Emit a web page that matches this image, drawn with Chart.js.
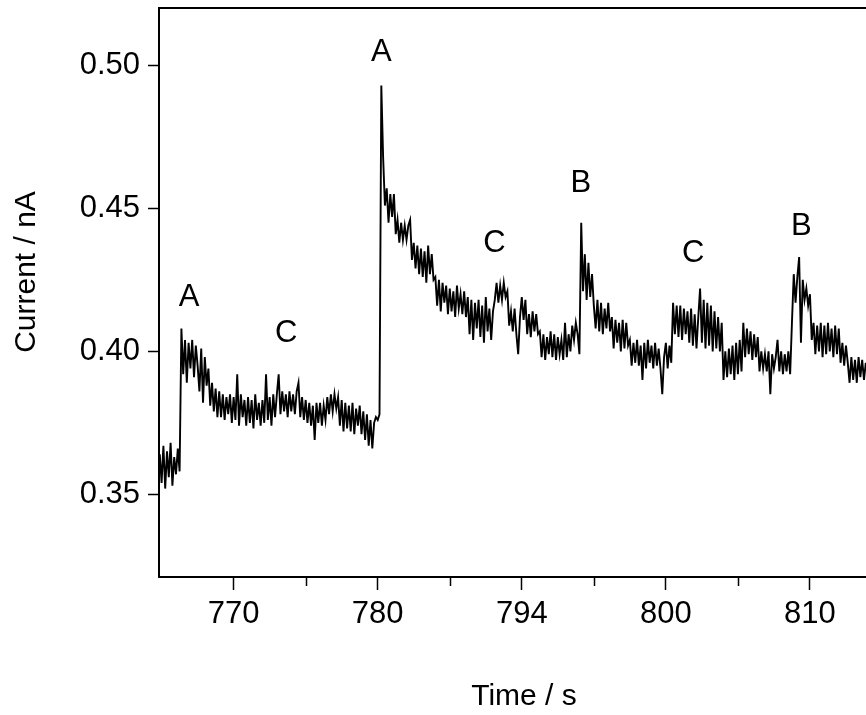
<!DOCTYPE html>
<html>
<head>
<meta charset="utf-8">
<title>Current trace</title>
<script src="https://cdn.jsdelivr.net/npm/chart.js@4.4.1/dist/chart.umd.min.js"></script>
<style>
    html, body { margin: 0; padding: 0; background: #fff; }
    canvas { display: block; }
</style>
</head>
<body>
<canvas id="traceChart" width="866" height="715"></canvas>
<script>
// Recording: one sample every 0.125 s starting at 764.875 s
const sampleStart = 764.875;
const sampleStep = 0.125;

// Current / nA, one row per second
const currentTrace = [
    0.364,
    0.354, 0.367, 0.352, 0.365, 0.356, 0.368, 0.353, 0.363, // 765
    0.357, 0.366, 0.358, 0.408, 0.392, 0.404, 0.389, 0.403, // 766
    0.394, 0.404, 0.391, 0.402, 0.395, 0.386, 0.401, 0.382, // 767
    0.398, 0.388, 0.394, 0.381, 0.389, 0.379, 0.387, 0.377, // 768
    0.386, 0.377, 0.385, 0.376, 0.384, 0.378, 0.385, 0.375, // 769
    0.384, 0.376, 0.392, 0.374, 0.385, 0.377, 0.383, 0.374, // 770
    0.384, 0.375, 0.383, 0.373, 0.385, 0.376, 0.382, 0.374, // 771
    0.383, 0.375, 0.392, 0.376, 0.384, 0.374, 0.385, 0.377, // 772
    0.385, 0.392, 0.378, 0.386, 0.379, 0.385, 0.377, 0.386, // 773
    0.379, 0.385, 0.378, 0.386, 0.389, 0.377, 0.384, 0.376, // 774
    0.383, 0.375, 0.382, 0.374, 0.381, 0.369, 0.382, 0.375, // 775
    0.382, 0.374, 0.381, 0.376, 0.384, 0.378, 0.385, 0.379, // 776
    0.385, 0.380, 0.384, 0.374, 0.383, 0.372, 0.382, 0.373, // 777
    0.381, 0.372, 0.382, 0.371, 0.380, 0.374, 0.381, 0.371, // 778
    0.379, 0.369, 0.378, 0.367, 0.376, 0.366, 0.375, 0.377, // 779
    0.376, 0.378, 0.493, 0.468, 0.451, 0.457, 0.445, 0.455, // 780
    0.447, 0.455, 0.441, 0.446, 0.438, 0.445, 0.439, 0.444, // 781
    0.439, 0.444, 0.446, 0.432, 0.438, 0.429, 0.437, 0.427, // 782
    0.436, 0.426, 0.435, 0.424, 0.437, 0.427, 0.434, 0.425, // 783
    0.426, 0.416, 0.425, 0.414, 0.424, 0.417, 0.423, 0.413, // 784
    0.422, 0.414, 0.421, 0.412, 0.423, 0.415, 0.420, 0.413, // 785
    0.421, 0.412, 0.419, 0.406, 0.418, 0.404, 0.417, 0.408, // 786
    0.418, 0.405, 0.416, 0.403, 0.419, 0.407, 0.415, 0.404, // 787
    0.414, 0.418, 0.424, 0.417, 0.423, 0.418, 0.424, 0.419, // 788
    0.421, 0.409, 0.414, 0.407, 0.415, 0.406, 0.399, 0.412, // 789
    0.419, 0.411, 0.418, 0.406, 0.413, 0.405, 0.414, 0.407, // 790
    0.413, 0.406, 0.407, 0.398, 0.406, 0.397, 0.405, 0.399, // 791
    0.407, 0.398, 0.406, 0.397, 0.405, 0.399, 0.404, 0.397, // 792
    0.410, 0.398, 0.406, 0.400, 0.409, 0.404, 0.410, 0.406, // 793
    0.399, 0.445, 0.421, 0.434, 0.418, 0.431, 0.419, 0.427, // 794
    0.416, 0.408, 0.418, 0.407, 0.417, 0.406, 0.415, 0.408, // 795
    0.417, 0.407, 0.412, 0.401, 0.411, 0.403, 0.410, 0.400, // 796
    0.411, 0.401, 0.410, 0.402, 0.404, 0.395, 0.403, 0.396, // 797
    0.404, 0.395, 0.402, 0.390, 0.403, 0.394, 0.404, 0.396, // 798
    0.402, 0.394, 0.403, 0.395, 0.401, 0.394, 0.385, 0.398, // 799
    0.403, 0.394, 0.402, 0.396, 0.417, 0.406, 0.416, 0.405, // 800
    0.416, 0.404, 0.415, 0.406, 0.414, 0.403, 0.415, 0.402, // 801
    0.413, 0.401, 0.412, 0.422, 0.403, 0.418, 0.401, 0.417, // 802
    0.402, 0.416, 0.400, 0.414, 0.401, 0.412, 0.400, 0.410, // 803
    0.390, 0.400, 0.391, 0.401, 0.392, 0.402, 0.390, 0.403, // 804
    0.392, 0.404, 0.393, 0.410, 0.398, 0.408, 0.399, 0.407, // 805
    0.397, 0.406, 0.398, 0.405, 0.393, 0.400, 0.394, 0.399, // 806
    0.393, 0.400, 0.385, 0.399, 0.394, 0.398, 0.404, 0.393, // 807
    0.400, 0.392, 0.399, 0.393, 0.400, 0.392, 0.410, 0.427, // 808
    0.417, 0.426, 0.433, 0.403, 0.425, 0.418, 0.422, 0.416, // 809
    0.420, 0.404, 0.410, 0.399, 0.409, 0.400, 0.410, 0.398, // 810
    0.409, 0.399, 0.410, 0.400, 0.408, 0.398, 0.409, 0.399, // 811
    0.408, 0.396, 0.403, 0.395, 0.402, 0.396, 0.389, 0.398, // 812
    0.390, 0.397, 0.389, 0.398, 0.391, 0.397, 0.390, 0.396  // 813
];

// Axis ticks (the original figure labels the 790 s tick "794")
const timeTickValues = [770, 780, 790, 800, 810];
const timeTickLabels = ['770', '780', '794', '800', '810'];
const timeMinorTicks = [775, 785, 795, 805];
const currentTickValues = [0.35, 0.40, 0.45, 0.50];
const currentTickLabels = ['0.35', '0.40', '0.45', '0.50'];

// Peak annotations, placed in data units
const peakLabels = ['A', 'C', 'A', 'C', 'B', 'C', 'B'];
const peakLabelTimes = [766.9, 773.65, 780.25, 788.1, 794.1, 801.9, 809.4];
const peakLabelCurrents = [0.4197, 0.4071, 0.5054, 0.4386, 0.4596, 0.4351, 0.4444];

const FONT = '"Liberation Sans", Arial, Helvetica, sans-serif';

const figureExtras = {
    id: 'figureExtras',
    afterDraw(chart) {
        const { ctx, chartArea, scales } = chart;
        ctx.save();
        ctx.strokeStyle = '#000';

        // top frame line
        ctx.lineWidth = 2;
        ctx.beginPath();
        ctx.moveTo(chartArea.left - 1, chartArea.top);
        ctx.lineTo(chartArea.right, chartArea.top);
        ctx.stroke();

        // minor ticks on the time axis
        ctx.lineWidth = 1.5;
        timeMinorTicks.forEach(v => {
            const px = Math.round(scales.x.getPixelForValue(v)) + 0.5;
            ctx.beginPath();
            ctx.moveTo(px, chartArea.bottom);
            ctx.lineTo(px, chartArea.bottom + 9);
            ctx.stroke();
        });

        ctx.fillStyle = '#000';
        ctx.textAlign = 'center';
        ctx.textBaseline = 'alphabetic';

        // A / B / C labels
        ctx.font = '31px ' + FONT;
        peakLabels.forEach((txt, i) => {
            const px = scales.x.getPixelForValue(peakLabelTimes[i]);
            const py = scales.y.getPixelForValue(peakLabelCurrents[i]);
            ctx.fillText(txt, px, py + 11);
        });

        // axis titles
        ctx.font = '30px ' + FONT;
        ctx.fillText('Time / s', 524, 705);
        ctx.translate(35, 272);
        ctx.rotate(-Math.PI / 2);
        ctx.fillText('Current / nA', 0, 0);
        ctx.restore();
    }
};

// keep the plot box where the figure has it: no extra room for label overflow
function fixBox(size) {
    return scale => {
        if (scale.isHorizontal()) scale.height = size; else scale.width = size;
        scale.paddingTop = 0;
        scale.paddingBottom = 0;
        scale.paddingLeft = 0;
        scale.paddingRight = 0;
    };
}

const ctx = document.getElementById('traceChart').getContext('2d');
new Chart(ctx, {
    type: 'line',
    data: {
        datasets: [{
            label: 'Current',
            data: currentTrace.map((v, i) => ({ x: sampleStart + i * sampleStep, y: v })),
            borderColor: '#000',
            borderWidth: 1.9,
            pointRadius: 0,
            tension: 0,
            fill: false
        }]
    },
    options: {
        responsive: false,
        animation: false,
        devicePixelRatio: 1,
        layout: { padding: { top: 8, right: 0, bottom: 0, left: 0 } },
        plugins: {
            legend: { display: false },
            tooltip: { enabled: false }
        },
        scales: {
            x: {
                type: 'linear',
                min: 764.82,
                max: 813.89,
                afterFit: fixBox(138),
                afterBuildTicks: scale => {
                    scale.ticks = timeTickValues.map(v => ({ value: v }));
                },
                ticks: {
                    color: '#000',
                    font: { family: FONT, size: 31 },
                    padding: 6,
                    maxRotation: 0,
                    autoSkip: false,
                    callback: value => timeTickLabels[timeTickValues.indexOf(value)] ?? ''
                },
                grid: {
                    drawOnChartArea: false,
                    drawTicks: true,
                    tickLength: 13,
                    tickWidth: 1.5,
                    tickColor: '#000'
                },
                border: { display: true, color: '#000', width: 2 }
            },
            y: {
                type: 'linear',
                min: 0.32107,
                max: 0.52011,
                afterFit: fixBox(159),
                afterBuildTicks: scale => {
                    scale.ticks = currentTickValues.map(v => ({ value: v }));
                },
                ticks: {
                    color: '#000',
                    font: { family: FONT, size: 31 },
                    padding: 8,
                    autoSkip: false,
                    callback: value => currentTickLabels[currentTickValues.indexOf(value)] ?? ''
                },
                grid: {
                    drawOnChartArea: false,
                    drawTicks: true,
                    tickLength: 11,
                    tickWidth: 1.5,
                    tickColor: '#000'
                },
                border: { display: true, color: '#000', width: 2 }
            }
        }
    },
    plugins: [figureExtras]
});
</script>
</body>
</html>
